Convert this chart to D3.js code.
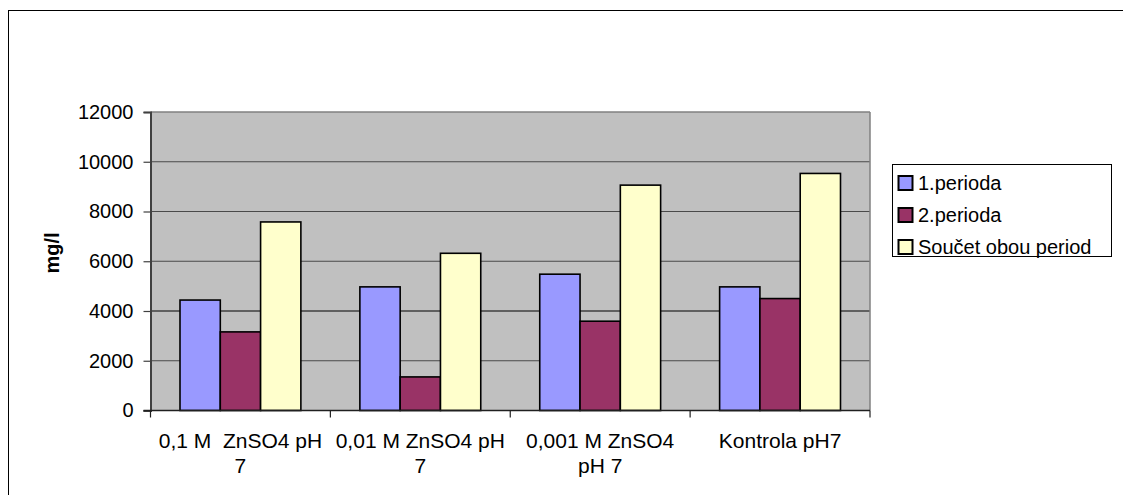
<!DOCTYPE html>
<html>
<head>
<meta charset="utf-8">
<script src="https://cdn.jsdelivr.net/npm/d3@7"></script>
<style>
  html, body { margin: 0; padding: 0; background: #fff; }
  svg { display: block; font-family: Arial, "Liberation Sans", sans-serif; }
  text { white-space: pre; }
</style>
</head>
<body>
<svg id="chart" width="1123" height="495"></svg>
<script>
// Categories (tested solutions) and their wrapped axis labels
const categories = ["0,1 M  ZnSO4 pH 7", "0,01 M ZnSO4 pH 7", "0,001 M ZnSO4 pH 7", "Kontrola pH7"];
const categoryLines = [["0,1 M  ZnSO4 pH", "7"], ["0,01 M ZnSO4 pH", "7"], ["0,001 M ZnSO4", "pH 7"], ["Kontrola pH7"]];

// Series
const seriesNames = ["1.perioda", "2.perioda", "Součet obou period"];
const period1 = [4440, 4970, 5480, 4970];
const period2 = [3160, 1350, 3590, 4500];
const total   = [7580, 6320, 9060, 9530];
const seriesValues = [period1, period2, total];
const seriesColors = ["#9999ff", "#993366", "#ffffcc"];

// Value axis
const yTicks = [0, 2000, 4000, 6000, 8000, 10000, 12000];
const yTitle = "mg/l";

const svg = d3.select("#chart");

// Outer chart frame
svg.append("rect")
  .attr("x", 8.5).attr("y", 10.5)
  .attr("width", 1300).attr("height", 700)
  .attr("fill", "#fff").attr("stroke", "#000").attr("stroke-width", 1);

const plot = { left: 150.5, right: 870, top: 112, bottom: 410.5 };

const x0 = d3.scaleBand()
  .domain(categories)
  .range([plot.left, plot.right])
  .paddingInner(0.328)
  .paddingOuter(0.164);

const x1 = d3.scaleBand()
  .domain(seriesNames)
  .range([0, x0.bandwidth()]);

const y = d3.scaleLinear()
  .domain([0, 12000])
  .range([plot.bottom, plot.top]);

// Plot area background
svg.append("rect")
  .attr("x", plot.left).attr("y", plot.top)
  .attr("width", plot.right - plot.left).attr("height", plot.bottom - plot.top)
  .attr("fill", "#c0c0c0");

// Gridlines
svg.append("g")
  .selectAll("line")
  .data(yTicks.filter(t => t > 0))
  .join("line")
  .attr("x1", plot.left).attr("x2", plot.right)
  .attr("y1", d => y(d)).attr("y2", d => y(d))
  .attr("stroke", d => d === 4000 ? "#000" : (d === 12000 ? "#808080" : "#4a4a4a"))
  .attr("stroke-width", d => d === 12000 ? 1.5 : 1);

// Right border of plot area
svg.append("line")
  .attr("x1", plot.right).attr("x2", plot.right)
  .attr("y1", plot.top).attr("y2", plot.bottom)
  .attr("stroke", "#808080").attr("stroke-width", 1.5);

// Bars
const groups = svg.append("g")
  .selectAll("g")
  .data(categories)
  .join("g")
  .attr("transform", d => `translate(${x0(d)},0)`);

groups.selectAll("rect")
  .data((c, i) => seriesNames.map((s, k) => ({ s, k, v: seriesValues[k][i] })))
  .join("rect")
  .attr("x", d => x1(d.s))
  .attr("width", x1.bandwidth())
  .attr("y", d => y(d.v))
  .attr("height", d => y(0) - y(d.v))
  .attr("fill", d => seriesColors[d.k])
  .attr("stroke", "#000")
  .attr("stroke-width", 1.6);

// Value axis
const yAxis = svg.append("g")
  .attr("transform", `translate(${plot.left},0)`)
  .call(d3.axisLeft(y).tickValues(yTicks).tickSize(7).tickPadding(10).tickFormat(d3.format("d")));
yAxis.select(".domain").attr("stroke", "#404040").attr("stroke-width", 2);
yAxis.selectAll(".tick line").attr("stroke", "#404040").attr("stroke-width", 1.2);
yAxis.selectAll(".tick text")
  .attr("font-size", 20)
  .attr("font-family", "Arial, 'Liberation Sans', sans-serif")
  .attr("fill", "#000");

// Category axis line and boundary ticks
svg.append("line")
  .attr("x1", plot.left - 7).attr("x2", plot.right)
  .attr("y1", plot.bottom).attr("y2", plot.bottom)
  .attr("stroke", "#202020").attr("stroke-width", 1.5);

const step = x0.step();
const boundaries = categories.map(c => x0(c) - step * x0.paddingInner() / 2).concat([plot.right]);
svg.append("g")
  .selectAll("line")
  .data(boundaries)
  .join("line")
  .attr("x1", d => d).attr("x2", d => d)
  .attr("y1", plot.bottom).attr("y2", plot.bottom + 7)
  .attr("stroke", "#202020").attr("stroke-width", 1.2);

// Category labels
const labels = svg.append("g")
  .attr("font-size", 21)
  .attr("text-anchor", "middle")
  .selectAll("text")
  .data(categories)
  .join("text")
  .attr("x", d => x0(d) + x0.bandwidth() / 2)
  .attr("y", 448);
labels.each(function(d, i) {
  const t = d3.select(this);
  categoryLines[i].forEach((line, j) => {
    t.append("tspan")
      .attr("x", x0(d) + x0.bandwidth() / 2)
      .attr("dy", j === 0 ? 0 : 25)
      .text(line);
  });
});

// Axis title
svg.append("text")
  .attr("transform", "translate(59,253) rotate(-90)")
  .attr("text-anchor", "middle")
  .attr("font-size", 20)
  .attr("font-weight", "bold")
  .text(yTitle);

// Legend
const legend = svg.append("g");
legend.append("rect")
  .attr("x", 892.5).attr("y", 164.5)
  .attr("width", 219).attr("height", 92)
  .attr("fill", "#fff").attr("stroke", "#000").attr("stroke-width", 1);

const rowY = [183, 215, 247];
const items = legend.selectAll("g.item")
  .data(seriesNames)
  .join("g")
  .attr("class", "item")
  .attr("transform", (d, i) => `translate(898,${rowY[i]})`);
items.append("rect")
  .attr("x", 0.5).attr("y", -7)
  .attr("width", 14).attr("height", 14)
  .attr("fill", (d, i) => seriesColors[i])
  .attr("stroke", "#000").attr("stroke-width", 2);
items.append("text")
  .attr("x", 20).attr("y", 7)
  .attr("font-size", 20)
  .text(d => d);
</script>
</body>
</html>
